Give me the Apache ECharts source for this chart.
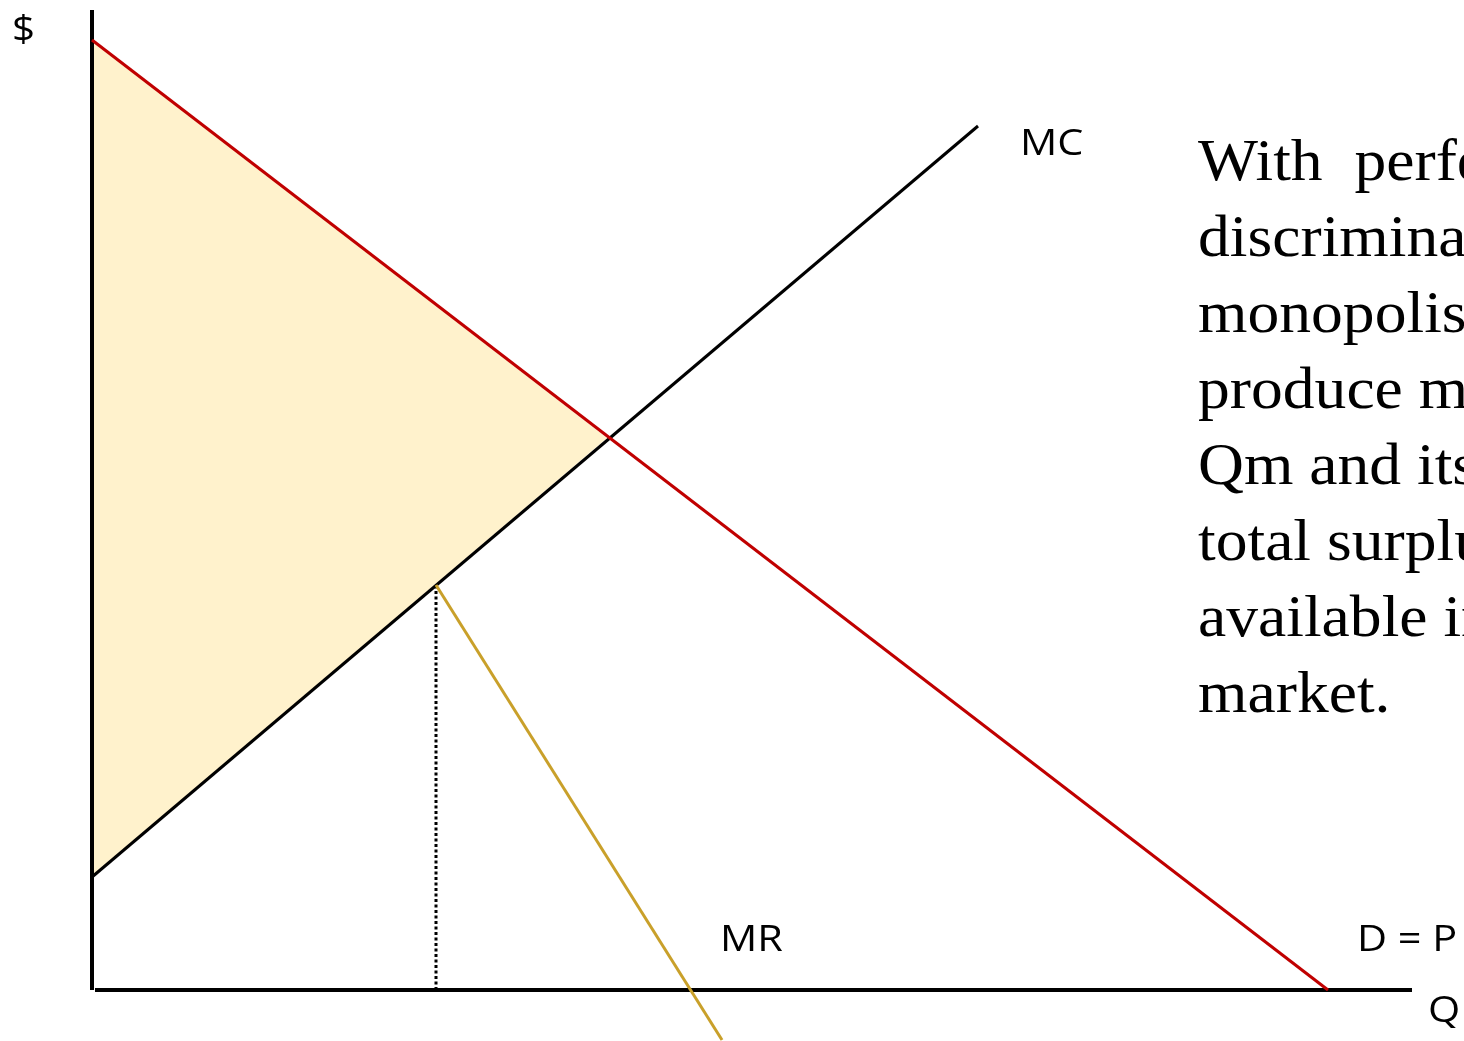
<!DOCTYPE html>
<html>
<head>
<meta charset="utf-8">
<title>Perfect price discrimination</title>
<script src="https://cdn.jsdelivr.net/npm/echarts@6/dist/echarts.min.js"></script>
<style>
  html, body { margin: 0; padding: 0; background: #fff; }
  #chart { width: 1464px; height: 1041px; }
</style>
</head>
<body>
<div id="chart"></div>
<script>
// 曲线数据 (Q, $)
const demand = [[0, 95], [123.6, 0]]
const mc = [[0, 11.3], [88.6, 86.4]]
const mr = [[34.4, 40.5], [63, -5]]
const qmLine = [[34.4, 0], [34.4, 40.5]]
const surplus = [[0, 95], [51.5, 55.2], [0, 11.3]]
const yAxisLine = [[0, 0], [0, 98]]
const xAxisLine = [[0.3, 0], [132, 0]]

const textLines = [
  'With  perfect',
  'discrimination,',
  'monopolist',
  'produce more',
  'Qm and its',
  'total surplus',
  'available in',
  'market.'
]

const chart = echarts.init(document.getElementById('chart'))

const sans = '"Open Sans", "Noto Sans", sans-serif'

function lineSeries(data, color, width, type) {
  return {
    type: 'line',
    data: data,
    symbol: 'none',
    silent: true,
    lineStyle: { color: color, width: width, type: type || 'solid', cap: 'butt' },
    z: 3
  }
}

// 原图文字略微横向拉伸
function label(text, x, y, size) {
  return {
    type: 'text', x: x, y: y, scaleX: 1.12,
    style: {
      text: text, fontSize: size, fontFamily: sans, fill: '#000',
      verticalAlign: 'middle', align: 'left'
    }
  }
}

const option = {
  animation: false,
  backgroundColor: '#fff',
  grid: { left: 92, right: 52, top: 0, bottom: 0 },
  xAxis: { type: 'value', min: 0, max: 132, show: false },
  yAxis: { type: 'value', min: -5.1, max: 99, show: false },
  series: [
    {
      // 阴影三角形
      type: 'custom',
      silent: true,
      z: 1,
      renderItem: function (params, api) {
        const pts = surplus.map(p => api.coord(p))
        return {
          type: 'polygon',
          shape: { points: pts },
          style: { fill: '#FFF2CC' }
        }
      },
      data: [0]
    },
    lineSeries(yAxisLine, '#000', 4),
    lineSeries(xAxisLine, '#000', 4),
    lineSeries(qmLine, '#000', 3, [3, 2.5]),
    lineSeries(mc, '#000', 3),
    lineSeries(mr, '#C9A02A', 3),
    lineSeries(demand, '#C00000', 3)
  ],
  graphic: [
    label('$', 12, 31, 36),
    label('MC', 1020, 144, 37),
    label('MR', 720, 940, 37),
    label('D = P', 1357, 940, 37),
    label('Q', 1428, 1011, 37),
    {
      type: 'text', x: 1198, y: 126, scaleX: 1.06,
      style: {
        text: textLines.join('\n'),
        fontSize: 60,
        fontFamily: '"Liberation Serif", "DejaVu Serif", serif',
        lineHeight: 76,
        fill: '#000'
      }
    }
  ]
}

chart.setOption(option)
</script>
</body>
</html>
